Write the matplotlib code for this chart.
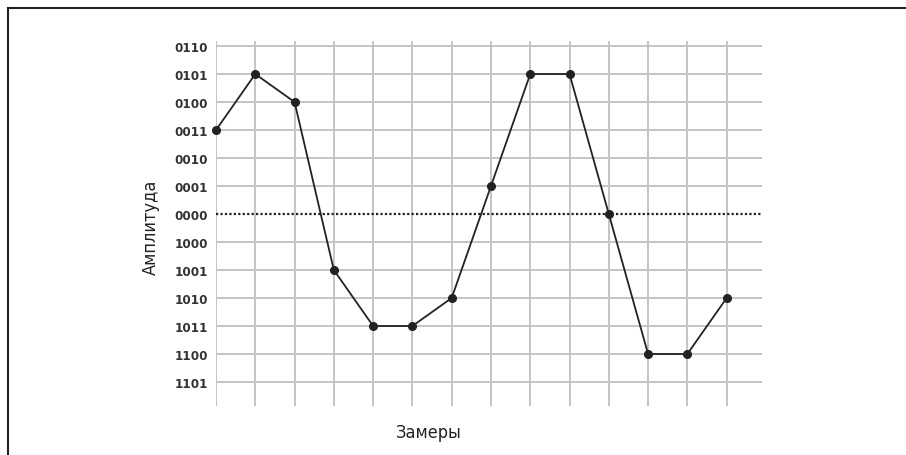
import matplotlib.pyplot as plt
from matplotlib.lines import Line2D

# Уровни квантования (сверху вниз) и замеры
level_labels = ["0110", "0101", "0100", "0011", "0010", "0001", "0000",
                "1000", "1001", "1010", "1011", "1100", "1101"]
level_pos = [6, 5, 4, 3, 2, 1, 0, -1, -2, -3, -4, -5, -6]
samples = list(range(14))
amplitude = [3, 5, 4, -2, -4, -4, -3, 1, 5, 5, 0, -5, -5, -3]

fig = plt.figure(figsize=(9.06, 4.56), dpi=100)
ax = fig.add_axes([216 / 906, 1 - 407 / 456, 546 / 906, 365 / 456])

grid_kw = dict(color="#c4c4c4", linewidth=1.4, zorder=1)
for p in level_pos:
    if p != 0:
        ax.axhline(p, **grid_kw)
for s in samples:
    ax.axvline(s, **grid_kw)
ax.axhline(0, color="#222222", linewidth=1.6, linestyle=(0, (1, 1)), zorder=2)

ax.plot(samples, amplitude, color="#222222", linewidth=1.3, marker="o",
        markersize=5.5, zorder=3, clip_on=False)

ax.set_xlim(0, 13.9)
ax.set_ylim(-6.857, 6.18)
ax.set_xticks([])
ax.set_yticks(level_pos)
ax.set_yticklabels(level_labels, family="DejaVu Sans", fontstretch="condensed",
                   fontsize=9.5, color="#333333", fontweight="bold")
ax.tick_params(axis="y", length=0, pad=5.5)
for sp in ax.spines.values():
    sp.set_visible(False)

lab_font = dict(family="DejaVu Sans", fontstretch="condensed", fontsize=13, color="#222222")
fig.text(151 / 906, 1 - 227 / 456, "Амплитуда", rotation=90, ha="center", va="center", **lab_font)
fig.text(429 / 906, 1 - 438 / 456, "Замеры", ha="center", va="baseline", **lab_font)

# рамка сверху и слева
fig.add_artist(Line2D([7.5 / 906, 7.5 / 906], [0, 1 - 9 / 456], transform=fig.transFigure,
                      color="#222222", linewidth=1.5))
fig.add_artist(Line2D([7.5 / 906, 1], [1 - 9 / 456, 1 - 9 / 456], transform=fig.transFigure,
                      color="#222222", linewidth=1.5))

fig.savefig("out.png", dpi=100)
